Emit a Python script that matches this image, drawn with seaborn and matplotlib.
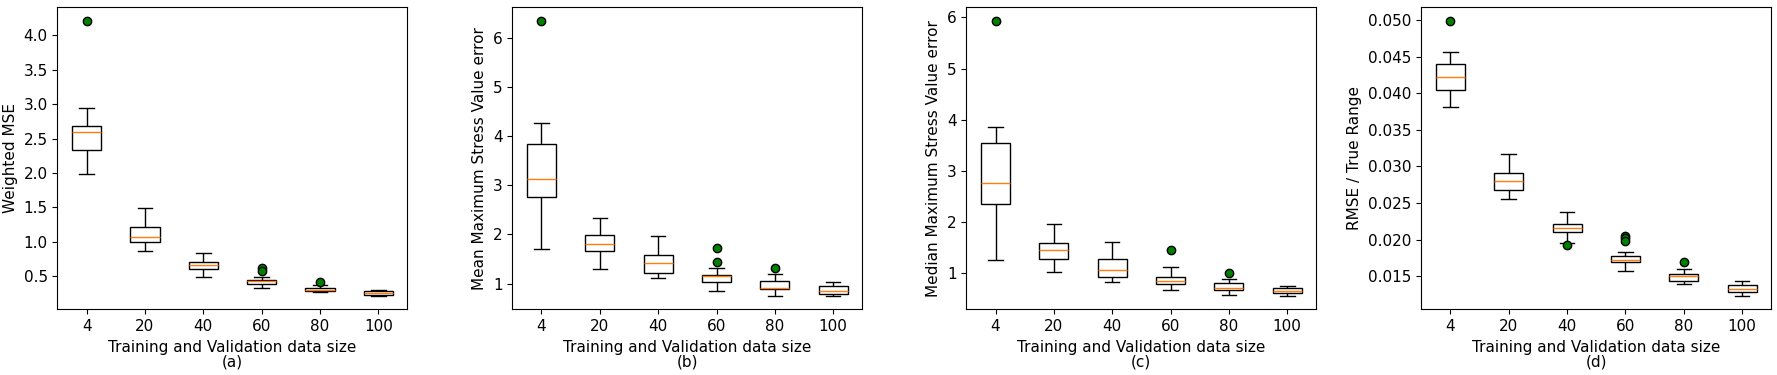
import numpy as np
import pandas as pd
import matplotlib
matplotlib.use("Agg")
import matplotlib.pyplot as plt
import seaborn as sns

sizes = ["4", "20", "40", "60", "80", "100"]

# Panel (a) Weighted MSE
a_whislo = [1.985, 0.864, 0.485, 0.325, 0.267, 0.214]
a_q1 = [2.335, 0.995, 0.607, 0.383, 0.282, 0.223]
a_med = [2.597, 1.068, 0.655, 0.422, 0.296, 0.252]
a_q3 = [2.680, 1.209, 0.699, 0.437, 0.320, 0.277]
a_whishi = [2.947, 1.490, 0.835, 0.485, 0.364, 0.291]
a_fliers = [[4.21], [], [], [0.61, 0.57], [0.413], []]

# Panel (b) Mean Maximum Stress Value error
b_whislo = [1.711, 1.305, 1.122, 0.858, 0.756, 0.756]
b_q1 = [2.768, 1.671, 1.224, 1.041, 0.885, 0.797]
b_med = [3.134, 1.813, 1.427, 1.149, 0.919, 0.858]
b_q3 = [3.846, 1.996, 1.589, 1.183, 1.050, 0.959]
b_whishi = [4.272, 2.341, 1.976, 1.325, 1.200, 1.041]
b_fliers = [[6.345], [], [], [1.732, 1.434], [1.31], []]

# Panel (c) Median Maximum Stress Value error
c_whislo = [1.260, 1.026, 0.831, 0.674, 0.577, 0.557]
c_q1 = [2.354, 1.280, 0.928, 0.792, 0.675, 0.616]
c_med = [2.764, 1.443, 1.066, 0.844, 0.714, 0.655]
c_q3 = [3.539, 1.586, 1.280, 0.928, 0.800, 0.707]
c_whishi = [3.858, 1.966, 1.612, 1.124, 0.883, 0.753]
c_fliers = [[5.93], [], [], [1.456], [1.005], []]

# Panel (d) RMSE / True Range
d_whislo = [0.03814, 0.02559, 0.01950, 0.01577, 0.01400, 0.01236]
d_q1 = [0.04045, 0.02682, 0.02109, 0.01695, 0.01441, 0.01282]
d_med = [0.04223, 0.02805, 0.02164, 0.01727, 0.01500, 0.01332]
d_q3 = [0.04400, 0.02914, 0.02218, 0.01780, 0.01536, 0.01386]
d_whishi = [0.04564, 0.03173, 0.02375, 0.01836, 0.01605, 0.01436]
d_fliers = [[0.04986], [], [0.0192], [0.0205, 0.0202, 0.0198], [0.0170], []]

ylabels = ["Weighted MSE", "Mean Maximum Stress Value error",
           "Median Maximum Stress Value error", "RMSE / True Range"]
panel_tags = ["(a)", "(b)", "(c)", "(d)"]
xlabel = "Training and Validation data size"

panels = [
    (a_whislo, a_q1, a_med, a_q3, a_whishi, a_fliers),
    (b_whislo, b_q1, b_med, b_q3, b_whishi, b_fliers),
    (c_whislo, c_q1, c_med, c_q3, c_whishi, c_fliers),
    (d_whislo, d_q1, d_med, d_q3, d_whishi, d_fliers),
]


def build_table(whislo, q1, med, q3, whishi, fliers, rep=10):
    # sample table whose box statistics equal the values
    rows = []
    for i, s in enumerate(sizes):
        vals = ([whislo[i]] + [q1[i]] * rep + [med[i]] * rep + [q3[i]] * rep
                + [whishi[i]] + list(fliers[i]))
        for v in vals:
            rows.append((s, v))
    return pd.DataFrame(rows, columns=["size", "value"])


fig = plt.figure(figsize=(17.77, 3.75), dpi=100)
lefts = [0.0323, 0.2883, 0.5438, 0.7998]
w, bottom, h = 0.197, 0.1752, 0.8053

for k, p in enumerate(panels):
    ax = fig.add_axes([lefts[k], bottom, w, h])
    df = build_table(*p)
    sns.boxplot(data=df, x="size", y="value", order=sizes, ax=ax,
                width=0.5, color="white", linecolor="black", linewidth=1.0,
                whis=1.5, saturation=1,
                medianprops={"color": "#ff7f0e", "linewidth": 1.0},
                flierprops={"marker": "o", "markerfacecolor": "green",
                            "markeredgecolor": "black", "markersize": 6})
    ax.set_xlabel(xlabel + "\n" + panel_tags[k], fontsize=11, linespacing=1.0)
    ax.set_ylabel(ylabels[k], fontsize=11)
    ax.tick_params(labelsize=11)
    ax.margins(y=0.05)
    ax.autoscale(axis="y")

fig.savefig("out.png", dpi=100)
